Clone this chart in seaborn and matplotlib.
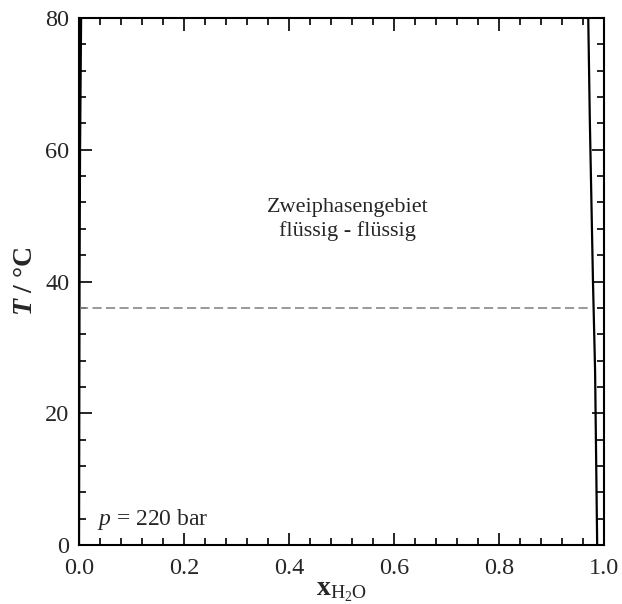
import matplotlib
matplotlib.use("Agg")
import matplotlib.pyplot as plt
import seaborn as sns
import pandas as pd
from matplotlib.ticker import MultipleLocator

# Data
left_T = [80, 60, 40, 20, 0]
left_x = [0.004, 0.002, 0.001, 0.0005, 0.0]
right_T = [80, 64.5, 40, 26.5, 0]
right_x = [0.970, 0.973, 0.979, 0.983, 0.987]
sep_T = 36
sep_x = [0.0, 0.978]

sns.set_style("ticks")
plt.rcParams['font.family'] = ['Liberation Serif', 'DejaVu Serif']
plt.rcParams['mathtext.fontset'] = 'custom'
plt.rcParams['mathtext.rm'] = 'Liberation Serif'
plt.rcParams['mathtext.it'] = 'Liberation Serif:italic'
plt.rcParams['mathtext.bf'] = 'Liberation Serif:bold'
plt.rcParams['mathtext.bfit'] = 'Liberation Serif:italic:bold'

fig = plt.figure(figsize=(6.22, 6.04), dpi=100)
ax = fig.add_axes([79/622, 59/604, 525/622, 527/604])

dl = pd.DataFrame({"x": left_x, "T": left_T})
dr = pd.DataFrame({"x": right_x, "T": right_T})
sns.lineplot(data=dl, x="x", y="T", sort=False, estimator=None, color="black", lw=1.6, ax=ax)
sns.lineplot(data=dr, x="x", y="T", sort=False, estimator=None, color="black", lw=1.6, ax=ax)
sns.lineplot(x=sep_x, y=[sep_T, sep_T], sort=False, estimator=None, color="#888888", lw=1.2,
             linestyle=(0, (5.5, 2.6)), ax=ax)

ax.set_xlim(0, 1)
ax.set_ylim(0, 80)
ax.xaxis.set_major_locator(MultipleLocator(0.2))
ax.xaxis.set_minor_locator(MultipleLocator(0.04))
ax.yaxis.set_major_locator(MultipleLocator(20))
ax.yaxis.set_minor_locator(MultipleLocator(4))
ax.tick_params(which='both', direction='in', top=True, right=True, width=1.2, color='black',
               labelsize=17.5)
ax.tick_params(axis='x', pad=9)
ax.tick_params(axis='y', pad=7)
ax.tick_params(which='major', length=9)
ax.tick_params(which='minor', length=5)
ax.xaxis.set_major_formatter(plt.FormatStrFormatter('%.1f'))
for s in ax.spines.values():
    s.set_linewidth(1.5)
    s.set_color('black')

ax.set_xlabel(r'$\mathbf{x}_{\mathrm{H_2O}}$', fontsize=20, labelpad=0)
ax.set_ylabel(r'$\mathbfit{T}$ / °C', fontsize=20, fontweight='bold', labelpad=5)

ax.text(0.512, 0.618, "Zweiphasengebiet\nflüssig - flüssig", transform=ax.transAxes,
        ha='center', va='center', fontsize=16, linespacing=1.3)
ax.text(0.034, 0.038, r"$p$ = 220 bar", transform=ax.transAxes, ha='left', va='baseline',
        fontsize=17)

fig.savefig("out.png", dpi=100)
